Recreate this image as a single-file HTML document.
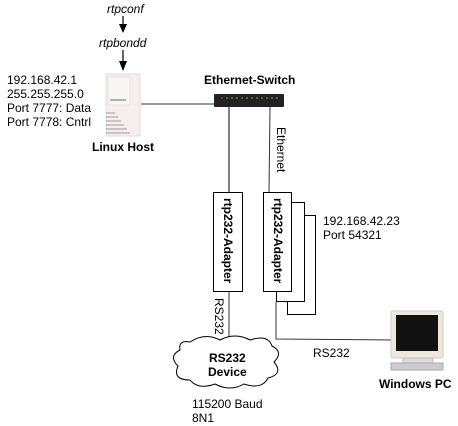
<!DOCTYPE html>
<html><head><style>
body{margin:0;background:#fff;width:458px;height:426px;overflow:hidden;position:relative;font-family:"Liberation Sans",sans-serif;}
.t{position:absolute;font-size:12px;line-height:14px;color:#000;white-space:nowrap}
.b{font-weight:bold}
</style></head><body>
<svg width="458" height="426" style="position:absolute;left:0;top:0">
<line x1="123" y1="16" x2="123" y2="32" stroke="#000" stroke-width="1.2"/>
<path d="M119,24 L127,24 L123,33 z"/>
<line x1="123" y1="50" x2="123" y2="70" stroke="#000" stroke-width="1.2"/>
<path d="M119,61 L127,61 L123,71 z"/>
<!-- server -->
<rect x="106" y="74" width="34" height="62" fill="#f6eeee" stroke="#ddd"/>
<rect x="108" y="77" width="22" height="28" fill="#fbf6f6" stroke="#ccc" stroke-width="0.5"/>
<line x1="110" y1="100" x2="126" y2="100" stroke="#666"/>
<g stroke="#999" stroke-width="1"><line x1="106" y1="113" x2="115" y2="113"/><line x1="106" y1="117" x2="118" y2="117"/><line x1="106" y1="121" x2="121" y2="121"/><line x1="106" y1="125" x2="124" y2="125"/><line x1="106" y1="129" x2="127" y2="129"/><line x1="106" y1="133" x2="130" y2="133"/></g>
<line x1="141" y1="104" x2="214" y2="104" stroke="#333"/>
<!-- switch -->
<rect x="214" y="94" width="70" height="13" fill="#222" rx="1"/>
<circle cx="222" cy="98" r="0.8" fill="#e33"/>
<g fill="#7c4">
<circle cx="227" cy="98" r="0.8"/><circle cx="232" cy="98" r="0.8"/><circle cx="237" cy="98" r="0.8"/><circle cx="242" cy="98" r="0.8"/><circle cx="247" cy="98" r="0.8"/><circle cx="252" cy="98" r="0.8"/><circle cx="257" cy="98" r="0.8"/><circle cx="262" cy="98" r="0.8"/><circle cx="267" cy="98" r="0.8"/><circle cx="272" cy="98" r="0.8"/><circle cx="277" cy="98" r="0.8"/></g>
<line x1="229" y1="107" x2="229" y2="192" stroke="#000"/>
<line x1="270" y1="107" x2="269" y2="192" stroke="#333"/>
<!-- adapters -->
<rect x="287.5" y="215.5" width="28" height="99" fill="#fff" stroke="#000"/>
<rect x="276.5" y="202.5" width="28" height="99" fill="#fff" stroke="#000"/>
<rect x="263.5" y="192.5" width="28" height="99" fill="#fff" stroke="#000"/>
<rect x="213.5" y="192.5" width="29" height="99" fill="#fff" stroke="#000"/>
<line x1="229" y1="292" x2="229" y2="340" stroke="#333"/>
<polyline points="276,302 276,339 391,340" fill="none" stroke="#333"/>
<!-- cloud -->
<path d="M190,342 Q205,332 220,340 Q235,332 250,340 Q268,334 272,346 Q284,352 274,362 Q284,374 268,378 Q262,390 244,384 Q230,392 215,384 Q198,390 190,380 Q172,380 178,366 Q168,356 180,350 Q178,340 190,342 z" fill="#fff" stroke="#000"/>
<!-- PC -->
<rect x="391" y="311" width="52" height="47" fill="#eee8d8" stroke="#ccc" rx="2"/>
<rect x="396" y="315" width="42" height="36" fill="#111"/>
<rect x="403" y="358" width="30" height="6" fill="#ddd" stroke="#bbb"/>
<rect x="391" y="363" width="52" height="7" fill="#ccc" stroke="#aaa"/>
</svg>
<div class="t" style="left:107px;top:2px;font-style:italic">rtpconf</div>
<div class="t" style="left:99px;top:36px;font-style:italic">rtpbondd</div>
<div class="t" style="left:7px;top:73px">192.168.42.1<br>255.255.255.0<br>Port 7777: Data<br>Port 7778: Cntrl</div>
<div class="t b" style="left:92px;top:140px">Linux Host</div>
<div class="t b" style="left:204px;top:73px">Ethernet-Switch</div>
<div class="t" style="left:274px;top:127px;transform-origin:0 0;transform:rotate(90deg) translate(0,-14px)">Ethernet</div>
<div class="t b" style="left:228px;top:198px;transform-origin:0 0;transform:rotate(90deg) translate(0,-7px)">rtp232-Adapter</div>
<div class="t b" style="left:278px;top:198px;transform-origin:0 0;transform:rotate(90deg) translate(0,-7px)">rtp232-Adapter</div>
<div class="t" style="left:323px;top:214px">192.168.42.23<br>Port 54321</div>
<div class="t" style="left:226px;top:298px;transform-origin:0 0;transform:rotate(90deg)">RS232</div>
<div class="t b" style="left:208px;top:351px;text-align:center">RS232<br>Device</div>
<div class="t" style="left:192px;top:397px">115200 Baud<br>8N1</div>
<div class="t" style="left:313px;top:346px">RS232</div>
<div class="t b" style="left:379px;top:377px">Windows PC</div>
</body></html>
